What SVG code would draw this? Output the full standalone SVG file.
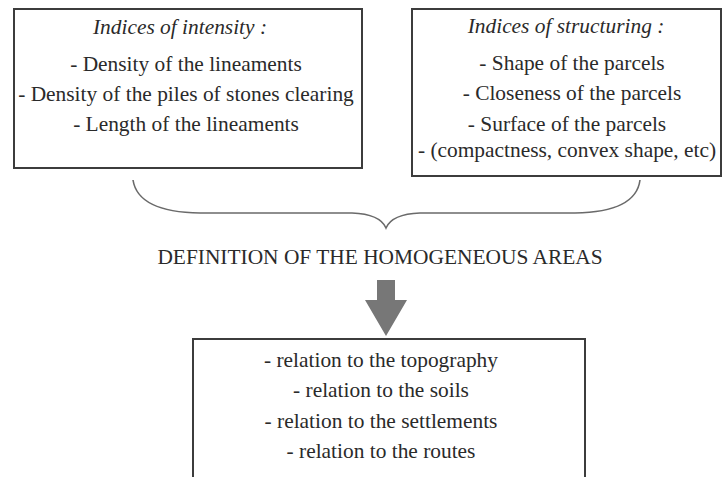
<svg xmlns="http://www.w3.org/2000/svg" width="725" height="477" viewBox="0 0 725 477">
<style>
.box{fill:#ffffff;stroke:#3c3c3c;stroke-width:2}
text{font-family:'Liberation Serif','Times New Roman','DejaVu Serif',serif;font-size:21.4px;fill:#2a2a2a;text-anchor:middle}
.i{font-style:italic}
.brace{fill:none;stroke:#6a6a6a;stroke-width:1.6}
.arrow{fill:#777777;stroke:none}
</style>
<rect width="725" height="477" fill="#ffffff"/>
<g id="intensity">
<rect class="box" x="14" y="9" width="348" height="159"/>
<text class="i" x="180" y="34" font-family="Liberation Serif, serif">Indices of intensity :</text>
<text x="186" y="71" font-family="Liberation Serif, serif">- Density of the lineaments</text>
<text x="186" y="101" font-family="Liberation Serif, serif">- Density of the piles of stones clearing</text>
<text x="186" y="131" font-family="Liberation Serif, serif">- Length of the lineaments</text>
</g>
<g id="structuring">
<rect class="box" x="412" y="9" width="309" height="167"/>
<text class="i" x="566" y="33" font-family="Liberation Serif, serif">Indices of structuring :</text>
<text x="572" y="70" font-family="Liberation Serif, serif">- Shape of the parcels</text>
<text x="572" y="100" font-family="Liberation Serif, serif">- Closeness of the parcels</text>
<text x="567" y="131" font-family="Liberation Serif, serif">- Surface of the parcels</text>
<text x="567" y="157" font-family="Liberation Serif, serif">- (compactness, convex shape, etc)</text>
</g>
<g id="definition">
<text x="380" y="264" font-family="Liberation Serif, serif">DEFINITION OF THE HOMOGENEOUS AREAS</text>
</g>
<g id="relations">
<rect class="box" x="193" y="339" width="392" height="160"/>
<text x="381" y="367" font-family="Liberation Serif, serif">- relation to the topography</text>
<text x="381" y="397" font-family="Liberation Serif, serif">- relation to the soils</text>
<text x="381" y="428" font-family="Liberation Serif, serif">- relation to the settlements</text>
<text x="381" y="458" font-family="Liberation Serif, serif">- relation to the routes</text>
</g>
<g id="connectors">
<path class="brace" d="M133,180 Q138,212 200,213 L352,213 Q380,214 386,228 Q392,214 420,213 L575,213 Q636,212 640,180"/>
<polygon class="arrow" points="377,280 395,280 395,300 407,300 386,336 365,300 377,300"/>
</g>
</svg>
